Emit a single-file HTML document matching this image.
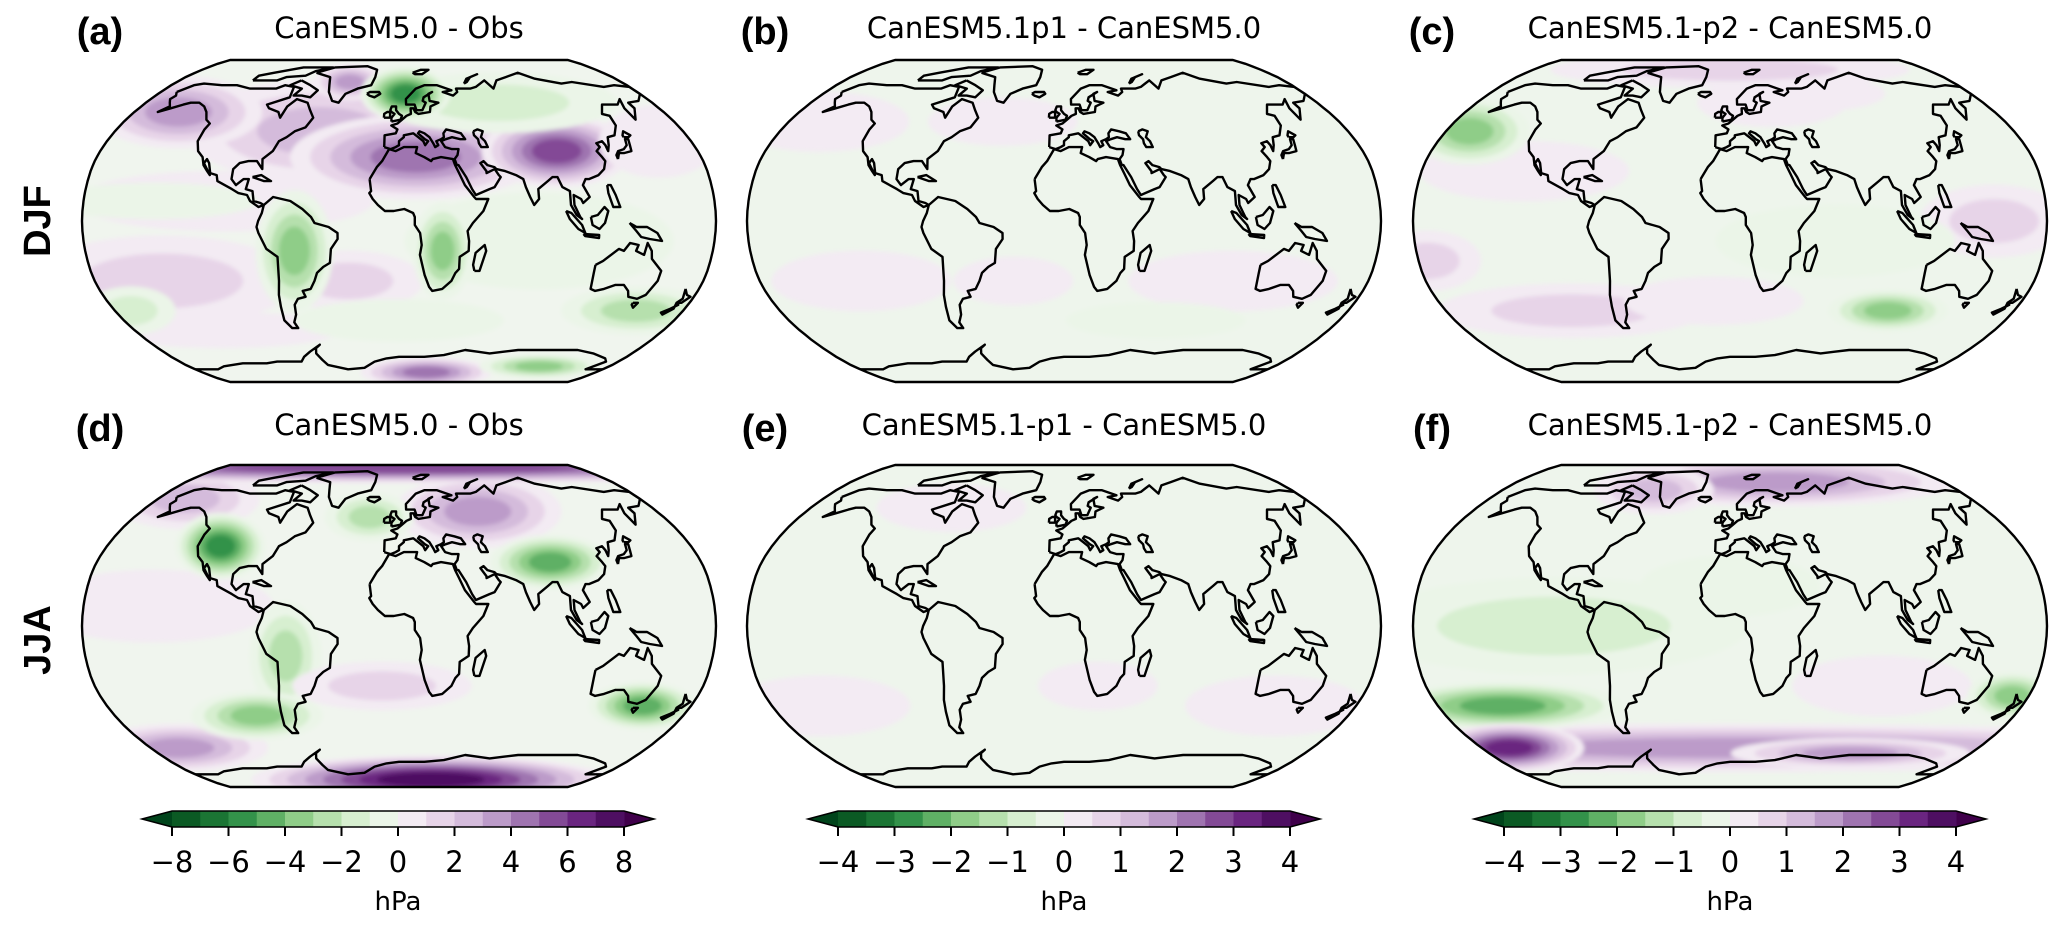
<!DOCTYPE html>
<html><head><meta charset="utf-8">
<style>
html,body{margin:0;padding:0;background:#fff;}
svg{display:block;font-family:"DejaVu Sans","Liberation Sans",sans-serif;}
</style></head>
<body>
<svg id="fig" width="2067" height="930" viewBox="0 0 2067 930" xmlns="http://www.w3.org/2000/svg">
<defs id="defs"></defs>
<g id="maps"></g>
<g id="labels" font-family="Liberation Sans, sans-serif">
<text x="100" y="44" font-size="38" font-weight="bold" text-anchor="middle">(a)</text>
<text x="399" y="38" font-size="29" text-anchor="middle" font-family="DejaVu Sans, sans-serif">CanESM5.0 - Obs</text>
<text x="765" y="44" font-size="38" font-weight="bold" text-anchor="middle">(b)</text>
<text x="1064" y="38" font-size="29" text-anchor="middle" font-family="DejaVu Sans, sans-serif">CanESM5.1p1 - CanESM5.0</text>
<text x="1432" y="44" font-size="38" font-weight="bold" text-anchor="middle">(c)</text>
<text x="1730" y="38" font-size="29" text-anchor="middle" font-family="DejaVu Sans, sans-serif">CanESM5.1-p2 - CanESM5.0</text>
<text x="100" y="441" font-size="38" font-weight="bold" text-anchor="middle">(d)</text>
<text x="399" y="435" font-size="29" text-anchor="middle" font-family="DejaVu Sans, sans-serif">CanESM5.0 - Obs</text>
<text x="765" y="441" font-size="38" font-weight="bold" text-anchor="middle">(e)</text>
<text x="1064" y="435" font-size="29" text-anchor="middle" font-family="DejaVu Sans, sans-serif">CanESM5.1-p1 - CanESM5.0</text>
<text x="1432" y="441" font-size="38" font-weight="bold" text-anchor="middle">(f)</text>
<text x="1730" y="435" font-size="29" text-anchor="middle" font-family="DejaVu Sans, sans-serif">CanESM5.1-p2 - CanESM5.0</text>
<text transform="translate(40,221) rotate(-90)" font-size="38" font-weight="bold" text-anchor="middle" dominant-baseline="middle">DJF</text>
<text transform="translate(40,640) rotate(-90)" font-size="38" font-weight="bold" text-anchor="middle" dominant-baseline="middle">JJA</text>
</g>
<g id="cbars"></g>
</svg>
<script>
const NS="http://www.w3.org/2000/svg";
const purples=["#f3ebf3","#e7d4e8","#d4bbdb","#bc9bc9","#9f74b0","#834a96","#6a2580","#4e0f62"];
const greens=["#ebf5e8","#d7efd0","#b6e0ad","#8fcd88","#5fb065","#33924a","#1b7534","#0b5a24"];
const ticksA=["−8","−6","−4","−2","0","2","4","6","8"];
const ticksBC=["−4","−3","−2","−1","0","1","2","3","4"];
// blobs: [lon, lat, rxDeg, ryDeg, level]
const blobsA=[[-140,-30,45,15,2],[-30,-30,25,10,2],[-120,-55,40,6,1],[-100,10,50,10,1],[-140,10,35,6,-1],[80,-10,45,16,-1],[0,-50,35,7,-1],[-50,45,45,17,3],[-150,55,28,12,4],[10,32,42,14,5],[95,35,25,12,6],[-40,72,12,6,4],[70,60,40,10,-2],[5,65,15,9,-6],[-60,-15,13,20,-4],[25,-15,10,16,-4],[150,-45,25,8,-3],[-170,-45,15,8,-2],[160,40,20,12,1],[25,-80,22,5,5],[120,-76,20,4,-4]];
const blobsB=[[-160,50,30,10,1],[-40,50,25,8,1],[100,-30,35,10,1],[-120,-30,30,10,1],[-30,-30,20,8,1],[60,-50,30,6,-1]];
const blobsC=[[-120,25,35,10,1],[-100,-45,45,9,2],[-175,-20,18,10,2],[150,0,25,12,2],[30,60,25,8,1],[60,65,25,6,1],[0,80,60,6,2],[60,-10,40,12,-1],[-165,45,20,11,-4],[100,-45,20,7,-4],[-10,-40,30,8,1]];
const blobsD=[[-140,10,40,12,1],[-160,65,25,10,3],[55,58,28,12,4],[0,86,180,5,6],[-160,-62,30,8,4],[-20,55,15,8,-3],[-110,40,15,11,-6],[90,32,20,9,-5],[-65,-15,12,18,-3],[-90,-45,22,8,-4],[150,-40,18,8,-5],[30,-82,60,8,8],[-10,-30,30,8,2]];
const blobsE=[[-150,-40,30,10,1],[130,-40,30,10,1],[-80,60,25,8,1],[20,-30,20,8,1]];
const blobsF=[[40,75,60,8,4],[-60,70,20,8,3],[0,-62,180,8,4],[-100,0,65,16,-2],[0,20,30,10,-1],[90,-30,30,10,1],[-140,-40,40,8,-5],[-160,-62,25,8,7],[170,-35,15,8,-4],[90,-65,40,5,4]];

const coasts=[
[[-168,66],[-162,70],[-156,71],[-140,70],[-128,70],[-115,68],[-95,68],[-90,70],[-82,69],[-80,63],[-93,59],[-90,57],[-82,55],[-79,52],[-78,58],[-74,62],[-65,60],[-61,56],[-57,52],[-60,47],[-66,45],[-70,42],[-74,40],[-76,35],[-81,31],[-80,26],[-82,28],[-84,30],[-89,30],[-94,29],[-97,26],[-97,21],[-94,18],[-90,21],[-87,21],[-88,16],[-84,15],[-83,10],[-79,9],[-77,8],[-80,7],[-85,10],[-87,13],[-92,14],[-96,16],[-105,20],[-106,23],[-110,24],[-112,29],[-114,31],[-115,29],[-110,23],[-112,25],[-115,28],[-117,32],[-121,35],[-124,40],[-124,46],[-123,49],[-127,51],[-131,55],[-136,58],[-142,60],[-148,60],[-152,59],[-158,57],[-164,55],[-160,58],[-163,60],[-166,62],[-165,64],[-168,66]],
[[-73,78],[-60,82],[-30,83],[-20,80],[-20,75],[-22,70],[-32,68],[-40,65],[-43,60],[-48,61],[-53,66],[-55,70],[-58,75],[-68,77],[-73,78]],
[[-80,73],[-70,70],[-62,67],[-65,63],[-72,64],[-78,64],[-75,68],[-86,70],[-80,73]],
[[-120,73],[-100,73],[-95,75],[-80,76],[-75,79],[-62,82],[-90,82],[-110,78],[-120,76],[-120,73]],
[[-77,8],[-72,12],[-62,10],[-55,6],[-50,2],[-48,-1],[-40,-3],[-35,-6],[-35,-9],[-39,-14],[-40,-21],[-44,-23],[-48,-26],[-50,-30],[-53,-34],[-58,-35],[-57,-38],[-62,-39],[-65,-42],[-66,-47],[-69,-51],[-68,-54],[-72,-54],[-75,-50],[-74,-43],[-73,-37],[-71,-30],[-70,-18],[-76,-14],[-80,-6],[-81,-3],[-80,0],[-78,4],[-77,8]],
[[-17,21],[-16,15],[-17,14],[-15,11],[-12,8],[-8,5],[-3,5],[3,6],[8,4],[9,2],[9,-2],[12,-6],[13,-12],[12,-17],[15,-27],[18,-33],[20,-35],[26,-34],[31,-30],[33,-26],[35,-24],[35,-18],[40,-15],[40,-10],[39,-5],[42,-1],[48,5],[51,11],[44,11],[43,12],[38,18],[35,24],[33,28],[32,31],[25,32],[20,31],[19,30],[15,32],[10,34],[11,37],[3,37],[-2,35],[-6,36],[-10,30],[-13,27],[-17,21]],
[[-9,37],[-9,43],[-2,44],[-1,46],[-5,48],[-1,49],[2,51],[5,53],[8,54],[8,57],[10,57],[11,55],[13,54],[21,55],[22,58],[28,60],[22,61],[22,65],[25,66],[18,63],[17,61],[19,60],[16,56],[12,56],[11,59],[5,59],[5,62],[13,68],[20,70],[30,70],[40,67],[33,66],[40,64],[44,66],[44,68],[55,68],[60,69],[70,73],[73,68],[80,73],[90,75],[105,78],[113,74],[130,71],[140,72],[160,69],[170,70],[180,69],[180,65],[178,64],[172,61],[163,60],[163,57],[156,51],[156,57],[160,62],[154,59],[143,59],[137,54],[141,53],[140,48],[135,43],[130,42],[128,38],[126,35],[126,38],[125,40],[121,39],[122,37],[119,35],[121,32],[122,30],[120,26],[116,23],[110,21],[108,21],[106,18],[109,12],[105,9],[104,11],[100,13],[100,8],[103,2],[104,1],[101,3],[98,8],[98,15],[94,17],[92,22],[89,22],[86,20],[80,16],[80,11],[77,8],[75,12],[73,17],[72,21],[68,23],[62,25],[57,26],[56,27],[52,28],[50,30],[48,29],[51,25],[51,24],[56,26],[58,23],[59,22],[55,17],[52,16],[44,13],[42,16],[39,22],[35,28],[34,28],[33,31],[35,33],[36,36],[32,36],[28,37],[26,40],[29,41],[33,42],[38,41],[41,41],[39,44],[35,45],[30,46],[28,44],[28,42],[26,41],[23,40],[24,38],[22,37],[21,39],[19,42],[16,44],[13,45],[12,44],[16,41],[18,40],[16,38],[15,40],[12,42],[9,44],[3,43],[3,42],[0,40],[0,38],[-2,37],[-5,36],[-9,37]],
[[47,45],[50,46],[53,45],[51,42],[53,40],[54,37],[50,37],[49,39],[49,41],[47,43],[47,45]],
[[-5,50],[1,51],[2,53],[0,54],[-2,56],[-2,58],[-5,58],[-6,56],[-5,55],[-3,54],[-4,53],[-5,52],[-5,50]],
[[-10,52],[-6,52],[-6,55],[-8,55],[-10,54],[-10,52]],
[[-24,65],[-22,66],[-15,66],[-14,65],[-18,63],[-22,64],[-24,65]],
[[130,31],[132,34],[135,34],[140,35],[141,38],[142,41],[140,41],[139,38],[136,36],[132,35],[130,33],[130,31]],
[[140,42],[143,42],[145,43],[142,45],[140,43],[140,42]],
[[44,-25],[47,-25],[50,-15],[49,-12],[44,-16],[43,-22],[44,-25]],
[[109,2],[110,-2],[114,-4],[117,-1],[119,5],[117,7],[113,3],[109,2]],
[[95,5],[98,4],[104,-2],[106,-6],[102,-4],[97,1],[95,5]],
[[105,-6.5],[114,-7],[114,-8.5],[106,-7.5],[105,-6.5]],
[[131,-1],[135,-3],[141,-3],[147,-6],[150,-10],[143,-9],[138,-8],[135,-5],[131,-1]],
[[120,18],[122,18],[124,13],[126,7],[122,7],[120,14],[120,18]],
[[114,-22],[114,-26],[115,-34],[118,-35],[123,-34],[129,-32],[134,-32],[138,-35],[140,-38],[146,-39],[150,-37],[153,-30],[153,-25],[146,-19],[145,-15],[142,-11],[141,-17],[136,-15],[137,-12],[132,-11],[129,-15],[126,-14],[122,-17],[118,-20],[114,-22]],
[[145,-41],[148,-41],[147,-43.5],[145,-42],[145,-41]],
[[172,-34],[175,-37],[178,-38],[175,-41],[172,-41],[174,-39],[172,-34]],
[[172,-41],[174,-42],[171,-44],[167,-46],[169,-47],[173,-44],[172,-41]],
[[52,71],[56,74],[68,77],[60,75],[55,72],[52,71]],
[[12,78],[20,80],[27,80],[20,77],[14,77],[12,78]],
[[-85,22],[-80,23],[-74,20],[-78,20],[-85,22]],
[[-180,-78],[-160,-78],[-150,-76],[-130,-74],[-110,-74],[-100,-73],[-80,-73],[-75,-70],[-68,-67],[-58,-63],[-62,-65],[-64,-68],[-62,-72],[-60,-75],[-45,-78],[-30,-77],[-20,-73],[-10,-71],[0,-70],[20,-70],[35,-69],[50,-66],[60,-67],[70,-68],[80,-67],[90,-66],[100,-66],[120,-66],[135,-66],[150,-68],[165,-71],[170,-73],[165,-78],[180,-78]]
];

const PLEN=[1,0.9986,0.9954,0.99,0.9822,0.973,0.96,0.9427,0.9216,0.8962,0.8679,0.835,0.7986,0.7597,0.7186,0.6732,0.6213,0.5722,0.5322];
const PDFE=[0,0.062,0.124,0.186,0.248,0.31,0.372,0.434,0.4958,0.5571,0.6176,0.6769,0.7346,0.7903,0.8435,0.8936,0.9394,0.9761,1];
function interp(t,a){const x=Math.min(Math.abs(t),90)/5;const i=Math.min(Math.floor(x),17);const f=x-i;return a[i]+(a[i+1]-a[i])*f;}
const HW=317, HH=161, GROW=1.7;
function proj(lon,lat,cx,cy){return [cx+HW*interp(lat,PLEN)*lon/180, cy-HH*Math.sign(lat)*interp(lat,PDFE)];}
function outline(cx,cy){let p=[];for(let la=-90;la<=90;la+=2.5)p.push(proj(-180,la,cx,cy));for(let la=90;la>=-90;la-=2.5)p.push(proj(180,la,cx,cy));return "M"+p.map(q=>q[0].toFixed(1)+","+q[1].toFixed(1)).join("L")+"Z";}
function col(l){return l>0?purples[Math.min(l,8)-1]:greens[Math.min(-l,8)-1];}

const panels=[
 {id:"a",cx:399,cy:221,base:"#f0f5ee",blobs:blobsA},
 {id:"b",cx:1064,cy:221,base:"#eef5ec",blobs:blobsB},
 {id:"c",cx:1730,cy:221,base:"#eef5ec",blobs:blobsC},
 {id:"d",cx:399,cy:626,base:"#f0f5ee",blobs:blobsD},
 {id:"e",cx:1064,cy:626,base:"#eef5ec",blobs:blobsE},
 {id:"f",cx:1730,cy:626,base:"#eef5ec",blobs:blobsF}];
const defs=document.getElementById("defs"), maps=document.getElementById("maps");
const flt=document.createElementNS(NS,"filter");flt.setAttribute("id","soft");
flt.innerHTML='<feGaussianBlur stdDeviation="2"/>';defs.appendChild(flt);
panels.forEach(P=>{
 const d=outline(P.cx,P.cy);
 const cp=document.createElementNS(NS,"clipPath");cp.setAttribute("id","clip-"+P.id);
 const cpp=document.createElementNS(NS,"path");cpp.setAttribute("d",d);cp.appendChild(cpp);defs.appendChild(cp);
 const g=document.createElementNS(NS,"g");
 
 
 maps.appendChild(g);
 const cg=document.createElementNS(NS,"g");cg.setAttribute("clip-path","url(#clip-"+P.id+")");g.appendChild(cg);
 const bg=document.createElementNS(NS,"path");bg.setAttribute("d",d);bg.setAttribute("fill",P.base);cg.appendChild(bg);
 const fg=document.createElementNS(NS,"g");fg.setAttribute("filter","url(#soft)");cg.appendChild(fg);
 P.blobs.forEach(b=>{
  const [lon,lat,rx,ry,lev]=b;const k=Math.abs(lev),s=Math.sign(lev);
  const c=proj(lon,lat,P.cx,P.cy);
  for(let i=1;i<=k;i++){
   const sc=1-(i-1)/k*0.8;
   const e=document.createElementNS(NS,"ellipse");
   
   
   e.setAttribute("cx",c[0]);e.setAttribute("cy",c[1]);
   e.setAttribute("rx",rx*GROW*HW/180*sc);e.setAttribute("ry",ry*GROW*HH/90*sc);
   e.setAttribute("fill",col(s*i));fg.appendChild(e);
  }
 });
 const cst=document.createElementNS(NS,"g");cg.appendChild(cst);
 coasts.forEach((poly,j)=>{
  const pl=document.createElementNS(NS,"polyline");
  
  
  pl.setAttribute("points",poly.map(q=>proj(q[0],q[1],P.cx,P.cy).map(v=>v.toFixed(1)).join(",")).join(" "));
  pl.setAttribute("fill","none");pl.setAttribute("stroke","#000");pl.setAttribute("stroke-width","2.4");pl.setAttribute("stroke-linejoin","round");
  cst.appendChild(pl);
 });
 const ol=document.createElementNS(NS,"path");
 
 
 ol.setAttribute("d",d);ol.setAttribute("fill","none");ol.setAttribute("stroke","#000");ol.setAttribute("stroke-width","2.4");g.appendChild(ol);
});

const cbs=document.getElementById("cbars");
const pal=greens.slice().reverse().concat(purples);
[[398,ticksA,"a"],[1064,ticksBC,"b"],[1730,ticksBC,"c"]].forEach(([cx,ticks,id])=>{
 const g=document.createElementNS(NS,"g");
 
 
 cbs.appendChild(g);
 const W=452,x0=cx-W/2,y0=811,h=16,bw=W/16;
 let l=document.createElementNS(NS,"polygon");l.setAttribute("points",`${x0},${y0} ${x0-30},${y0+h/2} ${x0},${y0+h}`);l.setAttribute("fill","#00441b");g.appendChild(l);
 let r=document.createElementNS(NS,"polygon");r.setAttribute("points",`${x0+W},${y0} ${x0+W+30},${y0+h/2} ${x0+W},${y0+h}`);r.setAttribute("fill","#40004b");g.appendChild(r);
 pal.forEach((c,i)=>{const rc=document.createElementNS(NS,"rect");rc.setAttribute("x",x0+i*bw);rc.setAttribute("y",y0);rc.setAttribute("width",bw+0.5);rc.setAttribute("height",h);rc.setAttribute("fill",c);g.appendChild(rc);});
 const ob=document.createElementNS(NS,"polygon");ob.setAttribute("points",`${x0-30},${y0+h/2} ${x0},${y0} ${x0+W},${y0} ${x0+W+30},${y0+h/2} ${x0+W},${y0+h} ${x0},${y0+h}`);ob.setAttribute("fill","none");ob.setAttribute("stroke","#000");ob.setAttribute("stroke-width","1.5");g.appendChild(ob);
 ticks.forEach((t,i)=>{
  const x=x0+i*(W/8);
  const ln=document.createElementNS(NS,"line");ln.setAttribute("x1",x);ln.setAttribute("x2",x);ln.setAttribute("y1",y0+h);ln.setAttribute("y2",y0+h+9);ln.setAttribute("stroke","#000");ln.setAttribute("stroke-width","2");g.appendChild(ln);
  const tx=document.createElementNS(NS,"text");
  
  
  tx.setAttribute("x",x);tx.setAttribute("y",872);tx.setAttribute("font-size","29");tx.setAttribute("text-anchor","middle");tx.textContent=t;g.appendChild(tx);
 });
 const u=document.createElementNS(NS,"text");
 
 
 u.setAttribute("x",cx);u.setAttribute("y",910);u.setAttribute("font-size","26");u.setAttribute("text-anchor","middle");u.textContent="hPa";g.appendChild(u);
});
</script>
</body></html>
